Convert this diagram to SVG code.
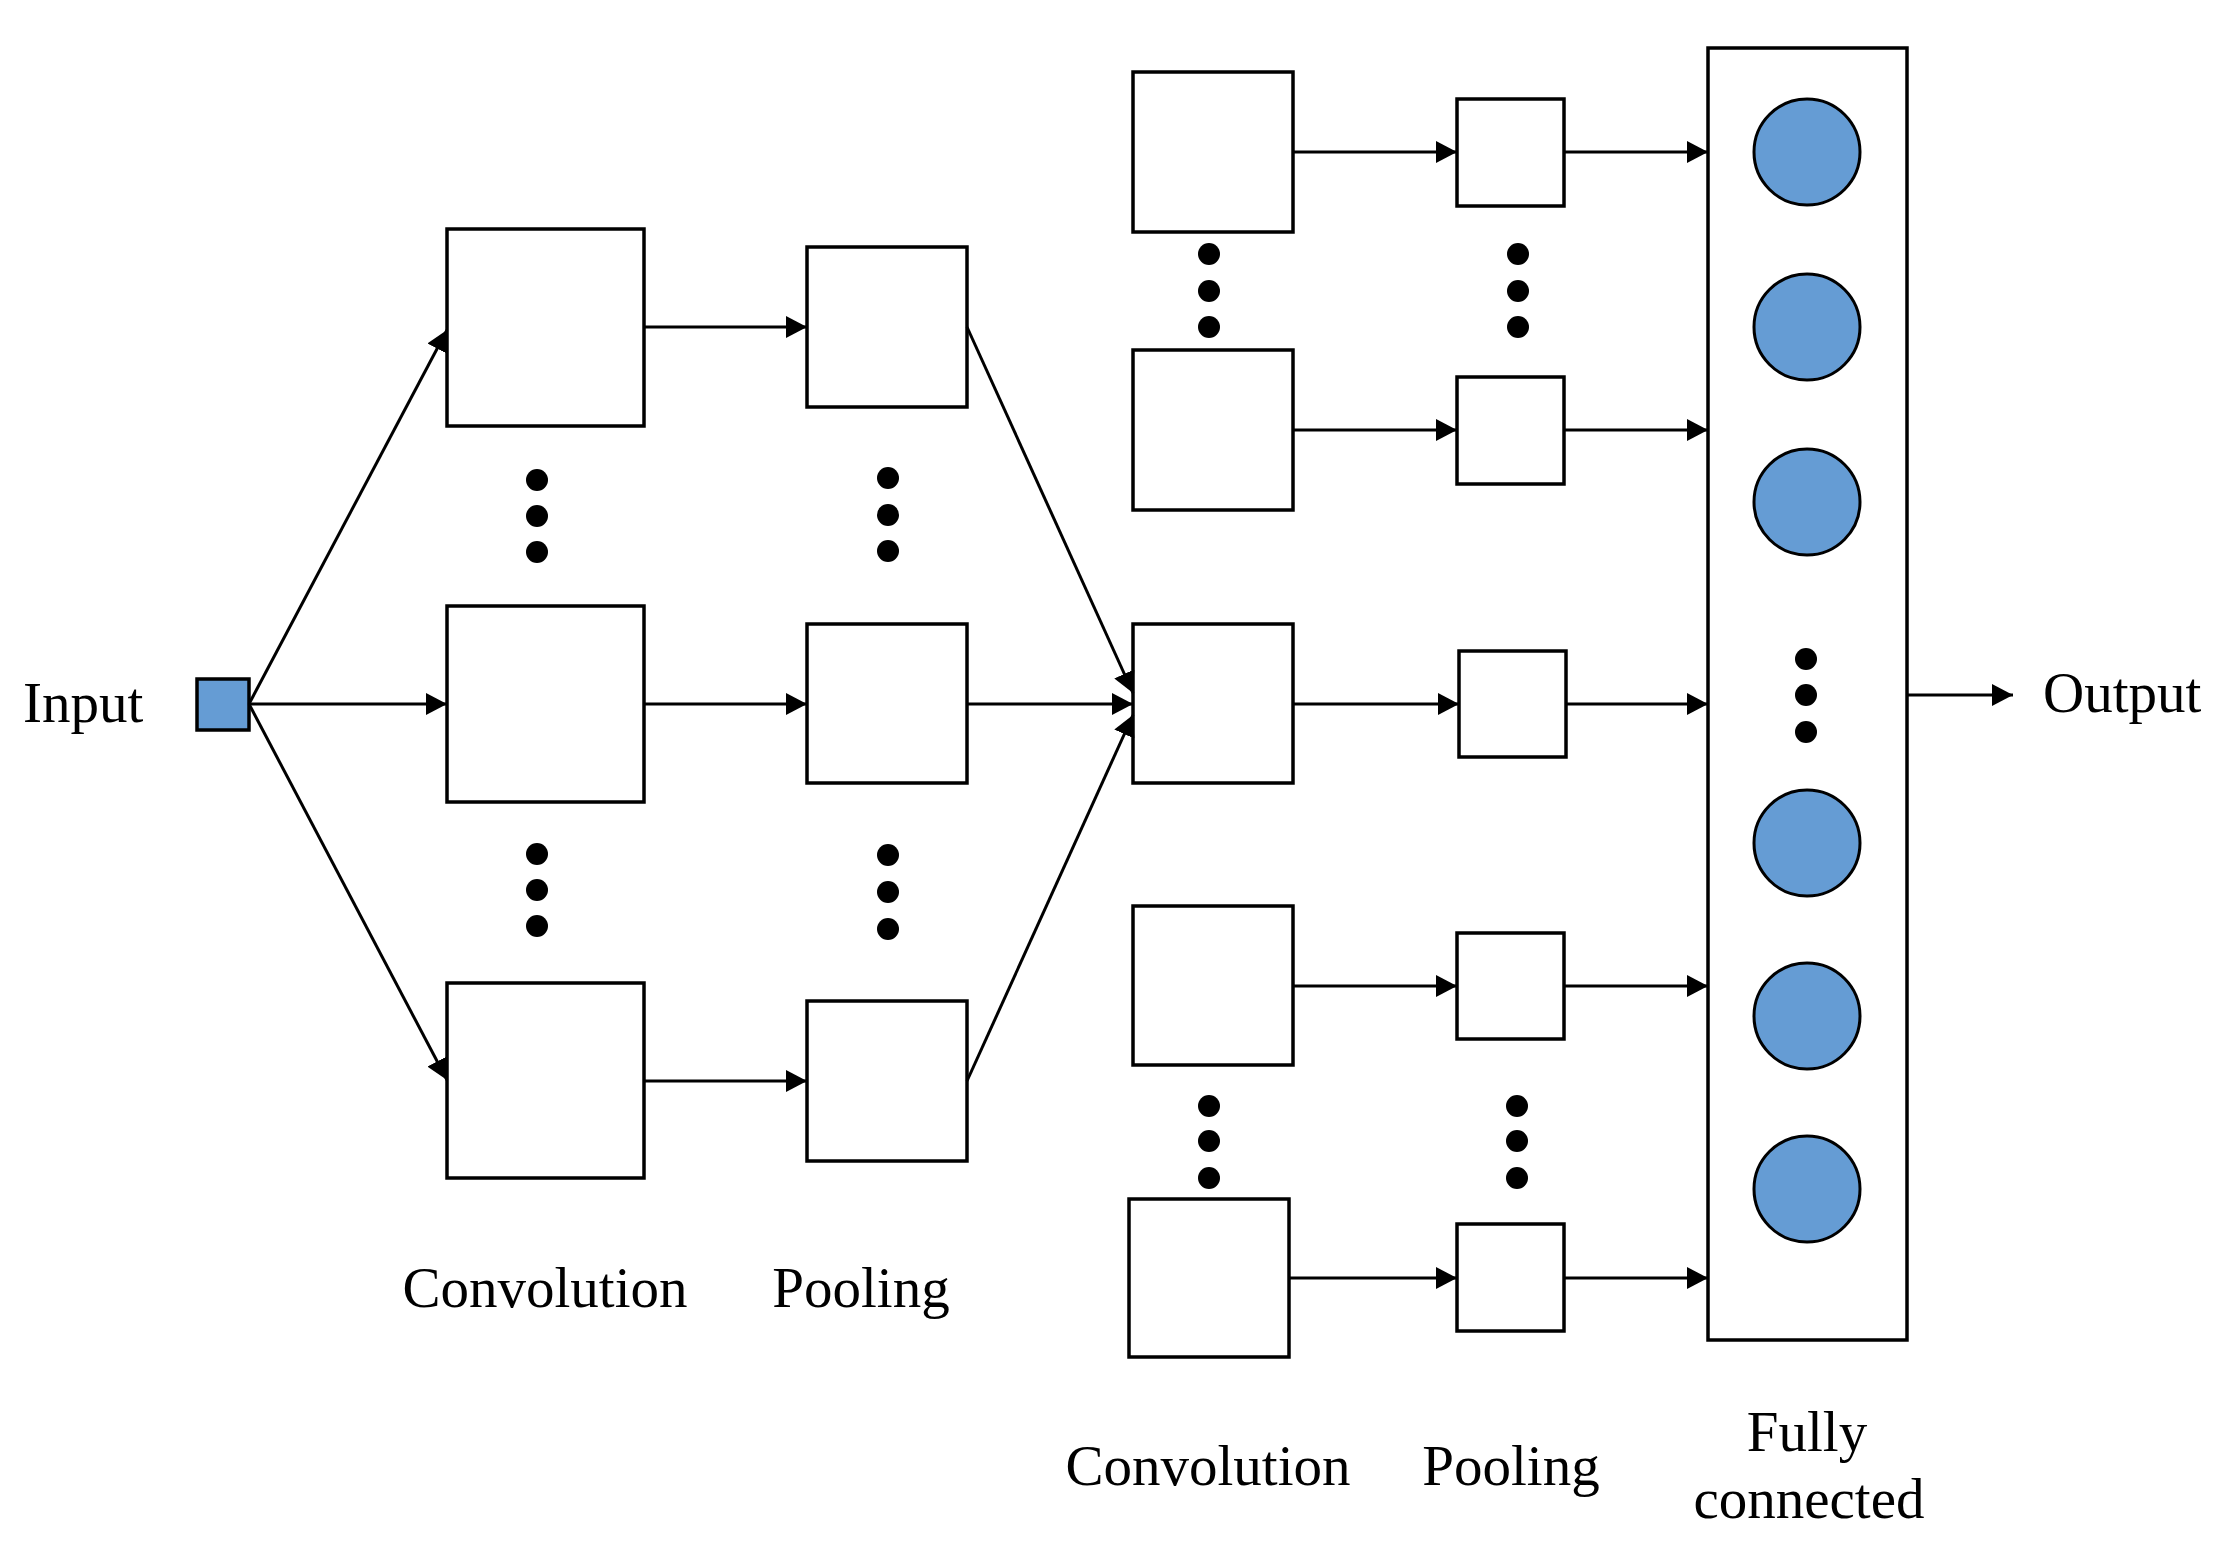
<svg xmlns="http://www.w3.org/2000/svg" width="2217" height="1554" viewBox="0 0 2217 1554">
<style>
.box{fill:#fff;stroke:#000;stroke-width:3.5}
.neuron{fill:#659cd4;stroke:#000;stroke-width:3}
.dot{fill:#000}
.lbl{font-family:"Liberation Serif","Times New Roman",serif;font-size:57px;fill:#000}
.cn line{stroke:#000;stroke-width:3;marker-end:url(#ah)}
</style>
<defs>
<marker id="ah" markerUnits="userSpaceOnUse" markerWidth="22" markerHeight="22" refX="21" refY="11" orient="auto" viewBox="0 0 22 22">
<path d="M0,0 L21,11 L0,22 Z" fill="#000"/>
</marker>
</defs>
<rect width="2217" height="1554" fill="#fff"/>

<g id="input">
<rect x="197" y="679" width="52" height="51" fill="#659cd4" stroke="#000" stroke-width="3.5"/>
<text class="lbl" x="23" y="722">Input</text>
</g>

<g id="conv1">
<rect class="box" x="447" y="229" width="197" height="197"/>
<rect class="box" x="447" y="606" width="197" height="196"/>
<rect class="box" x="447" y="983" width="197" height="195"/>
<circle class="dot" cx="537" cy="480" r="11"/><circle class="dot" cx="537" cy="516" r="11"/><circle class="dot" cx="537" cy="552" r="11"/>
<circle class="dot" cx="537" cy="854" r="11"/><circle class="dot" cx="537" cy="890" r="11"/><circle class="dot" cx="537" cy="926" r="11"/>
<text class="lbl" x="545" y="1307" text-anchor="middle">Convolution</text>
</g>

<g id="pool1">
<rect class="box" x="807" y="247" width="160" height="160"/>
<rect class="box" x="807" y="624" width="160" height="159"/>
<rect class="box" x="807" y="1001" width="160" height="160"/>
<circle class="dot" cx="888" cy="478" r="11"/><circle class="dot" cx="888" cy="515" r="11"/><circle class="dot" cx="888" cy="551" r="11"/>
<circle class="dot" cx="888" cy="855" r="11"/><circle class="dot" cx="888" cy="892" r="11"/><circle class="dot" cx="888" cy="929" r="11"/>
<text class="lbl" x="861" y="1307" text-anchor="middle">Pooling</text>
</g>

<g id="conv2">
<rect class="box" x="1133" y="72" width="160" height="160"/>
<rect class="box" x="1133" y="350" width="160" height="160"/>
<rect class="box" x="1133" y="624" width="160" height="159"/>
<rect class="box" x="1133" y="906" width="160" height="159"/>
<rect class="box" x="1129" y="1199" width="160" height="158"/>
<circle class="dot" cx="1209" cy="254" r="11"/><circle class="dot" cx="1209" cy="291" r="11"/><circle class="dot" cx="1209" cy="327" r="11"/>
<circle class="dot" cx="1209" cy="1106" r="11"/><circle class="dot" cx="1209" cy="1141" r="11"/><circle class="dot" cx="1209" cy="1178" r="11"/>
<text class="lbl" x="1208" y="1485" text-anchor="middle">Convolution</text>
</g>

<g id="pool2">
<rect class="box" x="1457" y="99" width="107" height="107"/>
<rect class="box" x="1457" y="377" width="107" height="107"/>
<rect class="box" x="1459" y="651" width="107" height="106"/>
<rect class="box" x="1457" y="933" width="107" height="106"/>
<rect class="box" x="1457" y="1224" width="107" height="107"/>
<circle class="dot" cx="1518" cy="254" r="11"/><circle class="dot" cx="1518" cy="291" r="11"/><circle class="dot" cx="1518" cy="327" r="11"/>
<circle class="dot" cx="1517" cy="1106" r="11"/><circle class="dot" cx="1517" cy="1141" r="11"/><circle class="dot" cx="1517" cy="1178" r="11"/>
<text class="lbl" x="1511" y="1485" text-anchor="middle">Pooling</text>
</g>

<g id="fc">
<rect class="box" x="1708" y="48" width="199" height="1292"/>
<circle class="neuron" cx="1807" cy="152" r="53"/>
<circle class="neuron" cx="1807" cy="327" r="53"/>
<circle class="neuron" cx="1807" cy="502" r="53"/>
<circle class="dot" cx="1806" cy="659" r="11"/><circle class="dot" cx="1806" cy="695" r="11"/><circle class="dot" cx="1806" cy="732" r="11"/>
<circle class="neuron" cx="1807" cy="843" r="53"/>
<circle class="neuron" cx="1807" cy="1016" r="53"/>
<circle class="neuron" cx="1807" cy="1189" r="53"/>
<text class="lbl" x="1807" y="1451" text-anchor="middle">Fully</text>
<text class="lbl" x="1809" y="1518" text-anchor="middle">connected</text>
</g>

<g id="output">
<text class="lbl" x="2043" y="712">Output</text>
</g>

<g id="connectors" class="cn">
<line x1="249" y1="704" x2="447" y2="330"/>
<line x1="249" y1="704" x2="447" y2="704"/>
<line x1="249" y1="704" x2="447" y2="1080"/>
<line x1="644" y1="327" x2="807" y2="327"/>
<line x1="644" y1="704" x2="807" y2="704"/>
<line x1="644" y1="1081" x2="807" y2="1081"/>
<line x1="967" y1="327" x2="1133" y2="693"/>
<line x1="967" y1="704" x2="1133" y2="704"/>
<line x1="967" y1="1081" x2="1133" y2="715"/>
<line x1="1293" y1="152" x2="1457" y2="152"/>
<line x1="1293" y1="430" x2="1457" y2="430"/>
<line x1="1293" y1="704" x2="1459" y2="704"/>
<line x1="1293" y1="986" x2="1457" y2="986"/>
<line x1="1289" y1="1278" x2="1457" y2="1278"/>
<line x1="1564" y1="152" x2="1708" y2="152"/>
<line x1="1564" y1="430" x2="1708" y2="430"/>
<line x1="1566" y1="704" x2="1708" y2="704"/>
<line x1="1564" y1="986" x2="1708" y2="986"/>
<line x1="1564" y1="1278" x2="1708" y2="1278"/>
<line x1="1907" y1="695" x2="2013" y2="695"/>
</g>
</svg>
